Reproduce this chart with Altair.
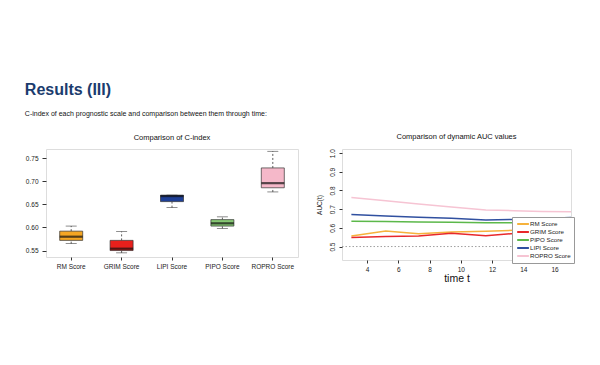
import altair as alt
import pandas as pd

# ---------------- data ----------------
scores = ["RM Score", "GRIM Score", "LIPI Score", "PIPO Score", "ROPRO Score"]
box_colors = ["#f5a623", "#e8201c", "#1e3f96", "#86c873", "#f5b8c9"]
whisker_lo = [0.565, 0.545, 0.643, 0.598, 0.677]
q1 = [0.572, 0.550, 0.656, 0.603, 0.686]
median = [0.580, 0.554, 0.668, 0.609, 0.696]
q3 = [0.592, 0.572, 0.670, 0.617, 0.729]
whisker_hi = [0.603, 0.591, 0.670, 0.623, 0.765]

times = [3.0, 5.2, 7.3, 9.4, 11.6, 13.4, 15.2, 17.1]
auc_rm = [0.557, 0.583, 0.568, 0.578, 0.582, 0.587, 0.590, 0.590]
auc_grim = [0.549, 0.554, 0.556, 0.571, 0.558, 0.570, 0.572, 0.575]
auc_pipo = [0.636, 0.634, 0.632, 0.630, 0.628, 0.627, 0.626, 0.625]
auc_lipi = [0.671, 0.664, 0.657, 0.651, 0.642, 0.645, 0.650, 0.655]
auc_ropro = [0.763, 0.745, 0.728, 0.712, 0.695, 0.692, 0.688, 0.686]
line_colors = ["#f6b23c", "#e8282b", "#5cb84a", "#3050a0", "#f6c4d3"]
x_ticks = [4, 6, 8, 10, 12, 14, 16]
y_ticks_auc = [0.5, 0.6, 0.7, 0.8, 0.9, 1.0]
y_ticks_c = [0.55, 0.60, 0.65, 0.70, 0.75]
ref_level = [0.5]

FONT = "Liberation Sans, Arial, sans-serif"

box_df = pd.DataFrame({
    "score": scores, "lo": whisker_lo, "q1": q1, "med": median,
    "q3": q3, "hi": whisker_hi, "color": box_colors,
})

xenc = alt.X("score:N", sort=scores, title=None,
             scale=alt.Scale(paddingInner=0, paddingOuter=0),
             axis=alt.Axis(labelAngle=0, labelFontSize=6.5, labelFont=FONT, labelColor="#222",
                           domain=False, tickColor="#333", tickSize=3, labelPadding=3,
                           labelOverlap=False))
yscale = alt.Scale(domain=[0.536, 0.770], nice=False, zero=False)
yaxis = alt.Axis(values=y_ticks_c, format=".2f", labelFontSize=6.5, labelFont=FONT, labelColor="#222",
                 domain=False, grid=False, tickColor="#333", tickSize=4, labelPadding=4,
                 labelOverlap=False, title=None)


def yq(field):
    return alt.Y(field, type="quantitative", scale=yscale, axis=yaxis, title=None)


base = alt.Chart(box_df)
whisk_lo = base.mark_rule(color="#333", strokeDash=[2, 2], strokeWidth=0.8).encode(
    x=xenc, y=yq("lo"), y2="q1:Q")
whisk_hi = base.mark_rule(color="#333", strokeDash=[2, 2], strokeWidth=0.8).encode(
    x=xenc, y=yq("q3"), y2="hi:Q")
cap_lo = base.mark_tick(color="#333", size=11, thickness=0.8, orient="horizontal").encode(
    x=xenc, y=yq("lo"))
cap_hi = base.mark_tick(color="#333", size=11, thickness=0.8, orient="horizontal").encode(
    x=xenc, y=yq("hi"))
boxes = base.mark_bar(size=23, stroke="#333", strokeWidth=0.7).encode(
    x=xenc, y=yq("q1"), y2="q3:Q",
    color=alt.Color("color:N", scale=None, legend=None))
meds = base.mark_tick(color="#111", size=23, thickness=2.2, orient="horizontal").encode(
    x=xenc, y=yq("med"))

left = alt.layer(whisk_lo, whisk_hi, cap_lo, cap_hi, boxes, meds).properties(
    width=252, height=108,
    title=alt.TitleParams("Comparison of C-index", fontSize=7.5, font=FONT,
                          fontWeight="normal", color="#111", offset=8),
)

# ---------------- AUC lines ----------------
series = [("RM Score", auc_rm), ("GRIM Score", auc_grim), ("PIPO Score", auc_pipo),
          ("LIPI Score", auc_lipi), ("ROPRO Score", auc_ropro)]
rows = []
for name, vals in series:
    for t, v in zip(times, vals):
        rows.append({"time": t, "auc": v, "score": name})
auc_df = pd.DataFrame(rows)
order = [s[0] for s in series]

xs = alt.Scale(domain=[2.4, 17.05], nice=False, zero=False)
ys = alt.Scale(domain=[0.428, 1.022], nice=False, zero=False)
xaxis_auc = alt.Axis(values=x_ticks, labelFontSize=6.5, labelFont=FONT, labelColor="#222",
                     domain=False, grid=False, tickColor="#333", tickSize=3, labelPadding=3,
                     labelOverlap=False,
                     titleFontSize=10.5, titleFont=FONT, titleFontWeight="normal",
                     titleColor="#111", titlePadding=1)
yaxis_auc = alt.Axis(values=y_ticks_auc, format=".1f", labelAngle=-90, labelAlign="center",
                     labelBaseline="bottom", labelFontSize=6.5, labelFont=FONT, labelColor="#222",
                     domain=False, grid=False, tickColor="#333", tickSize=3, labelPadding=4,
                     labelOverlap=False,
                     titleFontSize=6.5, titleFont=FONT, titleFontWeight="normal",
                     titleColor="#222", titlePadding=7)

lines = alt.Chart(auc_df).mark_line(strokeWidth=1.5, clip=True).encode(
    x=alt.X("time:Q", scale=xs, title="time t", axis=xaxis_auc),
    y=alt.Y("auc:Q", scale=ys, title="AUC(t)", axis=yaxis_auc),
    color=alt.Color("score:N", sort=order,
                    scale=alt.Scale(domain=order, range=line_colors),
                    legend=alt.Legend(title=None, orient="none", legendX=170, legendY=68,
                                      symbolType="M-0.6,0H3.3", symbolSize=36, symbolStrokeWidth=2,
                                      labelFontSize=6.2, labelFont=FONT, labelColor="#222",
                                      rowPadding=-2, padding=3, fillColor="white",
                                      strokeColor="#999", labelOffset=7)),
    detail="score:N",
)
ref = alt.Chart(pd.DataFrame({"level": ref_level})).mark_rule(
    color="#888", strokeDash=[1.5, 2], strokeWidth=0.8).encode(
    y=alt.Y("level:Q", scale=ys, title="AUC(t)", axis=yaxis_auc))

right = alt.layer(ref, lines).properties(
    width=229, height=111,
    title=alt.TitleParams("Comparison of dynamic AUC values", fontSize=7.5, font=FONT,
                          fontWeight="normal", color="#111", offset=8),
)

chart = alt.hconcat(left, right, spacing=16).resolve_scale(
    color="independent").resolve_legend(color="independent").properties(
    title=alt.TitleParams(
        "Results (III)", subtitle="C-index of each prognostic scale and comparison between them through time:",
        anchor="start", fontSize=16, font=FONT, fontWeight="bold", color="#1b3c6e",
        subtitleFont=FONT, subtitleFontSize=7, subtitleColor="#111", subtitlePadding=12,
        offset=16, dx=0),
    padding={"left": 16, "top": 73, "right": 5, "bottom": 5},
).configure_view(stroke="#888", strokeWidth=1).configure(background="white")

chart.save("out.html", embed_options={"renderer": "svg", "actions": False})
